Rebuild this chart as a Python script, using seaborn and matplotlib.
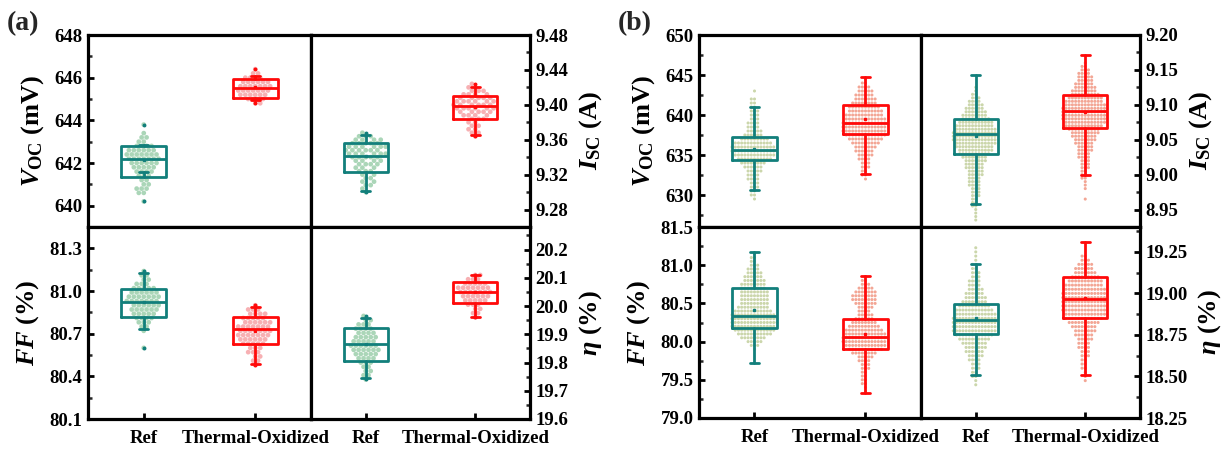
import warnings
warnings.filterwarnings("ignore")
import numpy as np
import pandas as pd
import matplotlib
matplotlib.use("Agg")
import matplotlib.pyplot as plt
import seaborn as sns
from matplotlib.ticker import FixedLocator, MultipleLocator, FormatStrFormatter

sns.set_theme(style="white")
plt.rcParams['font.family'] = ['Liberation Serif', 'DejaVu Serif']
plt.rcParams['font.weight'] = 'bold'
plt.rcParams['axes.labelweight'] = 'bold'
plt.rcParams['mathtext.fontset'] = 'custom'
plt.rcParams['mathtext.rm'] = 'Liberation Serif:bold'
plt.rcParams['mathtext.it'] = 'Liberation Serif:italic:bold'
plt.rcParams['mathtext.bf'] = 'Liberation Serif:bold'

groups = ["Ref", "Thermal-Oxidized"]

# ---------------- Panel (a) data (value levels and counts of points) ----------------
a_voc_ref_lv = [640.2, 640.4, 640.6, 640.8, 641.0, 641.2, 641.4, 641.6, 641.8, 642.0,
                642.2, 642.4, 642.6, 642.8, 643.0, 643.2, 643.4, 643.6, 643.8]
a_voc_ref_n = [1, 0, 2, 3, 2, 2, 3, 4, 5, 6, 7, 7, 6, 4, 2, 2, 1, 0, 1]
a_voc_th_lv = [644.8, 645.0, 645.2, 645.4, 645.6, 645.8, 646.0, 646.2, 646.4]
a_voc_th_n = [2, 4, 6, 7, 7, 6, 4, 2, 1]

a_isc_ref_lv = [9.300, 9.304, 9.308, 9.312, 9.316, 9.320, 9.324, 9.328, 9.332, 9.336,
                9.340, 9.344, 9.348, 9.352, 9.356, 9.360, 9.364, 9.368]
a_isc_ref_n = [1, 1, 2, 2, 2, 2, 3, 3, 4, 4, 5, 6, 6, 6, 5, 4, 3, 1]
a_isc_th_lv = [9.364, 9.368, 9.372, 9.376, 9.380, 9.384, 9.388, 9.392, 9.396, 9.400,
               9.404, 9.408, 9.412, 9.416, 9.420, 9.424]
a_isc_th_n = [1, 2, 2, 2, 2, 3, 4, 5, 6, 6, 6, 5, 4, 3, 2, 1]

a_ff_ref_lv = [80.60, 80.63, 80.66, 80.69, 80.72, 80.75, 80.78, 80.81, 80.84, 80.87,
               80.90, 80.93, 80.96, 80.99, 81.02, 81.05, 81.08, 81.11, 81.14]
a_ff_ref_n = [1, 0, 0, 0, 1, 2, 3, 4, 5, 6, 6, 7, 7, 6, 5, 3, 2, 2, 1]
a_ff_th_lv = [80.48, 80.51, 80.54, 80.57, 80.60, 80.63, 80.66, 80.69, 80.72, 80.75,
              80.78, 80.81, 80.84, 80.87, 80.90]
a_ff_th_n = [1, 2, 2, 3, 3, 5, 6, 7, 7, 7, 6, 5, 4, 3, 1]

a_eta_ref_lv = [19.740, 19.755, 19.770, 19.785, 19.800, 19.815, 19.830, 19.845, 19.860,
                19.875, 19.890, 19.905, 19.920, 19.935, 19.950, 19.965]
a_eta_ref_n = [1, 2, 2, 2, 3, 4, 5, 6, 6, 5, 5, 4, 4, 3, 2, 1]
a_eta_th_lv = [19.960, 19.975, 19.990, 20.005, 20.020, 20.035, 20.050, 20.065, 20.080,
               20.095, 20.110]
a_eta_th_n = [1, 2, 2, 3, 5, 6, 7, 7, 5, 3, 2]

# box statistics: [whislo, q1, median, q3, whishi, mean]
a_voc_box = [[641.60, 641.36, 642.20, 642.80, 642.85, 642.15],
             [644.95, 645.06, 645.50, 645.95, 646.10, 645.55]]
a_isc_box = [[9.3016, 9.3234, 9.3417, 9.3566, 9.3654, 9.341],
             [9.3654, 9.3838, 9.3986, 9.4105, 9.4200, 9.398]]
a_ff_box = [[80.733, 80.815, 80.925, 81.014, 81.124, 80.92],
            [80.490, 80.627, 80.730, 80.815, 80.885, 80.72]]
a_eta_box = [[19.744, 19.804, 19.866, 19.922, 19.959, 19.865],
             [19.960, 20.010, 20.051, 20.084, 20.110, 20.050]]

# ---------------- Panel (b) data ----------------
b_voc_ref_lv = [629.5, 630.0, 630.5, 631.0, 631.5, 632.0, 632.5, 633.0, 633.5, 634.0,
                634.5, 635.0, 635.5, 636.0, 636.5, 637.0, 637.5, 638.0, 638.5, 639.0,
                639.5, 640.0, 640.5, 641.0, 641.5, 642.0, 642.5, 643.0]
b_voc_ref_n = [1, 2, 2, 3, 3, 4, 4, 5, 6, 8, 11, 13, 14, 14, 12, 9, 6, 5, 4, 4,
               3, 3, 3, 2, 2, 2, 0, 1]
b_voc_th_lv = [632.0, 632.5, 633.0, 633.5, 634.0, 634.5, 635.0, 635.5, 636.0, 636.5,
               637.0, 637.5, 638.0, 638.5, 639.0, 639.5, 640.0, 640.5, 641.0, 641.5,
               642.0, 642.5, 643.0, 643.5, 644.0, 644.5]
b_voc_th_n = [1, 2, 2, 3, 3, 4, 5, 6, 7, 9, 11, 13, 14, 14, 14, 13, 12, 11, 10, 8,
              7, 6, 5, 4, 2, 1]

b_isc_ref_lv = [8.935, 8.940, 8.945, 8.950, 8.955, 8.960, 8.965, 8.970, 8.975, 8.980,
                8.985, 8.990, 8.995, 9.000, 9.005, 9.010, 9.015, 9.020, 9.025, 9.030,
                9.035, 9.040, 9.045, 9.050, 9.055, 9.060, 9.065, 9.070, 9.075, 9.080,
                9.085, 9.090, 9.095, 9.100, 9.105, 9.110, 9.115, 9.120, 9.125]
b_isc_ref_n = [1, 1, 1, 1, 2, 2, 2, 3, 3, 3, 4, 4, 4, 5, 5, 6, 6, 7, 8, 10,
               11, 12, 13, 14, 14, 14, 13, 12, 11, 9, 8, 7, 6, 5, 4, 3, 2, 1, 1]
b_isc_th_lv = [8.965, 8.970, 8.975, 8.980, 8.985, 8.990, 8.995, 9.000, 9.005, 9.010,
               9.015, 9.020, 9.025, 9.030, 9.035, 9.040, 9.045, 9.050, 9.055, 9.060,
               9.065, 9.070, 9.075, 9.080, 9.085, 9.090, 9.095, 9.100, 9.105, 9.110,
               9.115, 9.120, 9.125, 9.130, 9.135, 9.140, 9.145, 9.150, 9.155, 9.160]
b_isc_th_n = [1, 0, 0, 1, 1, 1, 2, 2, 2, 3, 3, 3, 4, 4, 5, 5, 6, 7, 8, 9,
              10, 12, 13, 14, 14, 14, 14, 13, 12, 11, 9, 8, 7, 6, 5, 5, 4, 3, 2, 1]

b_ff_ref_lv = [79.90, 79.95, 80.00, 80.05, 80.10, 80.15, 80.20, 80.25, 80.30, 80.35,
               80.40, 80.45, 80.50, 80.55, 80.60, 80.65, 80.70, 80.75, 80.80, 80.85,
               80.90, 80.95, 81.00, 81.05, 81.10, 81.15]
b_ff_ref_n = [1, 3, 5, 8, 11, 13, 14, 15, 15, 14, 12, 10, 9, 9, 9, 9, 8, 8, 7, 6,
              5, 4, 3, 2, 2, 1]
b_ff_th_lv = [79.35, 79.40, 79.45, 79.50, 79.55, 79.60, 79.65, 79.70, 79.75, 79.80,
              79.85, 79.90, 79.95, 80.00, 80.05, 80.10, 80.15, 80.20, 80.25, 80.30,
              80.35, 80.40, 80.45, 80.50, 80.55, 80.60, 80.65, 80.70, 80.75, 80.80, 80.85]
b_ff_th_n = [1, 1, 2, 2, 2, 2, 3, 3, 4, 5, 8, 11, 13, 14, 14, 13, 12, 10, 8, 6,
             5, 4, 5, 7, 8, 8, 7, 5, 3, 2, 1]

b_eta_ref_lv = [18.450, 18.475, 18.500, 18.525, 18.550, 18.575, 18.600, 18.625, 18.650,
                18.675, 18.700, 18.725, 18.750, 18.775, 18.800, 18.825, 18.850, 18.875,
                18.900, 18.925, 18.950, 18.975, 19.000, 19.025, 19.050, 19.075, 19.100,
                19.125, 19.150, 19.175, 19.200, 19.225, 19.250, 19.275]
b_eta_ref_n = [1, 1, 2, 2, 3, 3, 4, 5, 6, 7, 8, 10, 12, 14, 14, 14, 14, 13, 12, 10,
               8, 7, 6, 5, 4, 4, 3, 3, 2, 2, 1, 1, 1, 1]
b_eta_th_lv = [18.475, 18.500, 18.525, 18.550, 18.575, 18.600, 18.625, 18.650, 18.675,
               18.700, 18.725, 18.750, 18.775, 18.800, 18.825, 18.850, 18.875, 18.900,
               18.925, 18.950, 18.975, 19.000, 19.025, 19.050, 19.075, 19.100, 19.125,
               19.150, 19.175, 19.200, 19.225]
b_eta_th_n = [1, 1, 1, 2, 2, 2, 3, 3, 4, 4, 5, 6, 7, 8, 10, 12, 13, 14, 14, 14,
              14, 14, 13, 12, 11, 9, 7, 6, 5, 3, 2]

b_voc_box = [[630.6, 634.4, 635.6, 637.2, 641.0, 635.8],
             [632.6, 637.6, 639.0, 641.3, 644.8, 639.5]]
b_isc_box = [[8.958, 9.0295, 9.0577, 9.0797, 9.1427, 9.056],
             [8.9994, 9.0672, 9.091, 9.114, 9.1713, 9.090]]
b_ff_box = [[79.716, 80.18, 80.34, 80.70, 81.17, 80.42],
            [79.33, 79.907, 80.06, 80.30, 80.86, 80.10]]
b_eta_box = [[18.51, 18.757, 18.843, 18.939, 19.178, 18.85],
             [18.51, 18.851, 18.967, 19.096, 19.312, 18.97]]

# ---------------- axis ranges and ticks ----------------
a_voc_lim, a_voc_ticks = (639, 648), [640, 642, 644, 646, 648]
a_isc_lim, a_isc_ticks = (9.26, 9.48), [9.28, 9.32, 9.36, 9.40, 9.44, 9.48]
a_ff_lim, a_ff_ticks = (80.1, 81.45), [80.1, 80.4, 80.7, 81.0, 81.3]
a_eta_lim, a_eta_ticks = (19.6, 20.28), [19.6, 19.7, 19.8, 19.9, 20.0, 20.1, 20.2]
b_voc_lim, b_voc_ticks = (626, 650), [630, 635, 640, 645, 650]
b_isc_lim, b_isc_ticks = (8.925, 9.20), [8.95, 9.00, 9.05, 9.10, 9.15, 9.20]
b_ff_lim, b_ff_ticks = (79.0, 81.5), [79.0, 79.5, 80.0, 80.5, 81.0, 81.5]
b_eta_lim, b_eta_ticks = (18.25, 19.40), [18.25, 18.50, 18.75, 19.00, 19.25]

lab_voc = r"$\mathit{V}_{\mathrm{OC}}$ (mV)"
lab_isc = r"$\mathit{I}_{\mathrm{SC}}$ (A)"
lab_ff = r"$\mathit{FF}$ (%)"
lab_eta = r"$\mathit{\eta}$ (%)"

box_colors = ["#127f7b", "#ff0a0a"]
a_pt_colors = ["#9ccfac", "#f6a3a6"]
b_pt_colors = ["#c2cf9c", "#f19783"]

W, H = 1223, 449
fig = plt.figure(figsize=(W / 100, H / 100), dpi=100)


def make_ax(x0, x1, y0, y1):
    return fig.add_axes([x0 / W, 1 - y1 / H, (x1 - x0) / W, (y1 - y0) / H])


def draw(ax, ref_lv, ref_n, th_lv, th_n, boxes, pt_colors, size, lim, ticks, fmt,
         minor, label, side, bottom, fliers):
    vals = np.concatenate([np.repeat(ref_lv, ref_n), np.repeat(th_lv, th_n)])
    grp = [groups[0]] * int(np.sum(ref_n)) + [groups[1]] * int(np.sum(th_n))
    df = pd.DataFrame({"group": grp, "value": vals})
    sns.swarmplot(data=df, x="group", y="value", hue="group", order=groups,
                  hue_order=groups, palette=pt_colors, size=size, linewidth=0,
                  alpha=0.85, legend=False, ax=ax, zorder=1, warn_thresh=1.0)
    for i, b in enumerate(boxes):
        sub = df[df.group == groups[i]].value
        st = dict(whislo=b[0], q1=b[1], med=b[2], q3=b[3], whishi=b[4], mean=b[5],
                  fliers=[sub.min(), sub.max()] if fliers else [])
        c = box_colors[i]
        ax.bxp([st], positions=[i], widths=0.4, showmeans=True, manage_ticks=False,
               capwidths=0.08, patch_artist=False,
               boxprops=dict(color=c, linewidth=2.0),
               medianprops=dict(color=c, linewidth=2.0),
               whiskerprops=dict(color=c, linewidth=2.0),
               capprops=dict(color=c, linewidth=2.0),
               meanprops=dict(marker='s', markersize=1.6, markerfacecolor=c,
                              markeredgecolor=c),
               flierprops=dict(marker='o', markersize=1.8, markerfacecolor=c,
                               markeredgecolor=c),
               zorder=3)
    ax.set_xlim(-0.5, 1.5)
    ax.set_ylim(*lim)
    ax.yaxis.set_major_locator(FixedLocator(ticks))
    ax.yaxis.set_minor_locator(MultipleLocator(minor))
    ax.yaxis.set_major_formatter(FormatStrFormatter(fmt))
    ax.set_xlabel("")
    for s in ax.spines.values():
        s.set_linewidth(2.3)
        s.set_color("black")
    if side == "right":
        ax.yaxis.tick_right()
        ax.yaxis.set_label_position("right")
        ax.tick_params(axis='y', which='both', left=False, right=True)
    else:
        ax.tick_params(axis='y', which='both', left=True, right=False)
    ax.tick_params(axis='y', which='major', direction='in', length=4, width=2,
                   labelsize=13.5, pad=4, colors='black')
    ax.tick_params(axis='y', which='minor', direction='in', length=3, width=1.8)
    for t in ax.get_yticklabels():
        t.set_fontweight('bold')
    ax.set_ylabel(label, fontsize=19, fontweight='bold', labelpad=6, color='black')
    if bottom:
        ax.set_xticks([0, 1])
        ax.set_xticklabels(groups, fontsize=13.5, fontweight='bold')
        ax.tick_params(axis='x', which='major', direction='in', length=4, width=2,
                       bottom=True, top=False, pad=8, colors='black')
    else:
        ax.set_xticks([])
    ax.grid(False)
    ax.set_facecolor("white")


panels = [
    dict(xs=(88, 311, 530), ys=(35, 227, 419), pc=a_pt_colors, size=3.4, fl=True,
         items=[
             (a_voc_ref_lv, a_voc_ref_n, a_voc_th_lv, a_voc_th_n, a_voc_box, a_voc_lim, a_voc_ticks, "%d", 1, lab_voc),
             (a_isc_ref_lv, a_isc_ref_n, a_isc_th_lv, a_isc_th_n, a_isc_box, a_isc_lim, a_isc_ticks, "%.2f", 0.02, lab_isc),
             (a_ff_ref_lv, a_ff_ref_n, a_ff_th_lv, a_ff_th_n, a_ff_box, a_ff_lim, a_ff_ticks, "%.1f", 0.15, lab_ff),
             (a_eta_ref_lv, a_eta_ref_n, a_eta_th_lv, a_eta_th_n, a_eta_box, a_eta_lim, a_eta_ticks, "%.1f", 0.05, lab_eta),
         ]),
    dict(xs=(699, 921, 1140), ys=(35, 227, 418), pc=b_pt_colors, size=2.2, fl=False,
         items=[
             (b_voc_ref_lv, b_voc_ref_n, b_voc_th_lv, b_voc_th_n, b_voc_box, b_voc_lim, b_voc_ticks, "%d", 2.5, lab_voc),
             (b_isc_ref_lv, b_isc_ref_n, b_isc_th_lv, b_isc_th_n, b_isc_box, b_isc_lim, b_isc_ticks, "%.2f", 0.025, lab_isc),
             (b_ff_ref_lv, b_ff_ref_n, b_ff_th_lv, b_ff_th_n, b_ff_box, b_ff_lim, b_ff_ticks, "%.1f", 0.25, lab_ff),
             (b_eta_ref_lv, b_eta_ref_n, b_eta_th_lv, b_eta_th_n, b_eta_box, b_eta_lim, b_eta_ticks, "%.2f", 0.125, lab_eta),
         ]),
]

for p in panels:
    xs, ys = p["xs"], p["ys"]
    for k, it in enumerate(p["items"]):
        col, row = k % 2, k // 2
        ax = make_ax(xs[col], xs[col + 1], ys[row], ys[row + 1])
        draw(ax, it[0], it[1], it[2], it[3], it[4], p["pc"], p["size"], it[5], it[6],
             it[7], it[8], it[9], "left" if col == 0 else "right", row == 1, p["fl"])

fig.text(7 / W, 1 - 24 / H, "(a)", fontsize=20, fontweight='bold', ha='left', va='center')
fig.text(618 / W, 1 - 24 / H, "(b)", fontsize=20, fontweight='bold', ha='left', va='center')

fig.savefig("out.png", dpi=100, facecolor="white")
